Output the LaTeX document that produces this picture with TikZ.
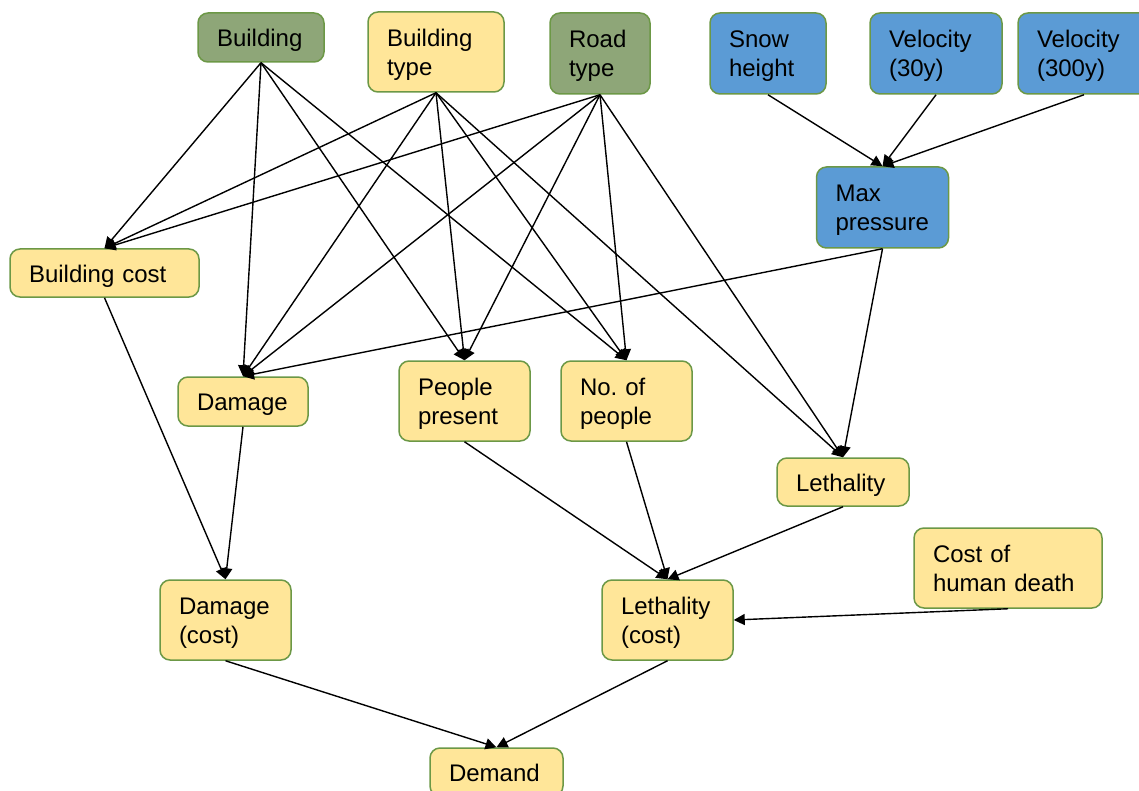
\documentclass[tikz,border=0pt]{standalone}
\usepackage{fontspec}
\setmainfont{Liberation Sans}
\usetikzlibrary{arrows.meta}
\definecolor{boxyellow}{RGB}{255,230,153}
\definecolor{boxgreen}{RGB}{142,166,120}
\definecolor{boxblue}{RGB}{91,155,213}
\definecolor{boxline}{RGB}{108,152,70}
\begin{document}
\begin{tikzpicture}[x=1pt,y=-1pt,line join=round,>={Triangle[length=11pt,width=11pt]},line width=1.4pt]
			\tikzset{every node/.style={draw=boxline,line width=1.5pt,rounded corners=10pt,inner xsep=19pt,inner ysep=0pt,align=left,text height=24pt,font=\fontsize{24}{29}\selectfont},
				nd/.style 2 args={text width=#1,minimum height=#2},
				onel/.style={text depth=5.6pt},twol/.style={text depth=35pt},
				yel/.style={fill=boxyellow},grn/.style={fill=boxgreen},blu/.style={fill=boxblue}}
			\useasboundingbox (0,0) rectangle (1139,791);
			\node[grn,onel,nd={88pt}{49pt}] (bld) at (261,37.5) {Building};
			\node[yel,twol,nd={98pt}{80pt}] (btype) at (436,52) {Building\\type};
			\node[grn,twol,nd={62pt}{81pt}] (road) at (600,53.5) {Road\\type};
			\node[blu,twol,nd={78pt}{81pt}] (snow) at (768,53.5) {Snow\\height};
			\node[blu,twol,nd={94pt}{81pt}] (vthirty) at (936,53.5) {Velocity\\(30y)};
			\node[blu,twol,nd={94pt}{81pt}] (vthree) at (1084,53.5) {Velocity\\(300y)};
			\node[blu,twol,nd={94pt}{81pt}] (maxp) at (882.5,207.5) {Max\\pressure};
			\node[yel,onel,nd={151pt}{48pt}] (bcost) at (104.5,273) {Building cost};
			\node[yel,onel,nd={92pt}{49pt}] (dmg) at (243,401.5) {Damage};
			\node[yel,twol,nd={93pt}{80pt}] (pres) at (464.5,401) {People\\present};
			\node[yel,twol,nd={93pt}{80pt}] (npeople) at (626.5,401) {No.\ of\\people};
			\node[yel,onel,nd={94pt}{48pt}] (leth) at (843,482) {Lethality};
			\node[yel,twol,nd={150pt}{80pt}] (hdeath) at (1008,568) {Cost of\\human death};
			\node[yel,twol,nd={93pt}{80pt}] (dcost) at (225.5,620) {Damage\\(cost)};
			\node[yel,twol,nd={93pt}{80pt}] (lcost) at (667.5,620) {Lethality\\(cost)};
			\node[yel,onel,nd={95pt}{48pt}] (dem) at (496.5,772) {Demand};
			\foreach \a/\b in {bld/bcost,bld/dmg,bld/pres,bld/npeople,
				btype/bcost,btype/dmg,btype/pres,btype/npeople,btype/leth,
				road/bcost,road/dmg,road/pres,road/npeople,road/leth,
				snow/maxp,vthirty/maxp,vthree/maxp,maxp/dmg,maxp/leth,
				bcost/dcost,dmg/dcost,pres/lcost,npeople/lcost,leth/lcost,
				dcost/dem,lcost/dem}
			\draw[->] (\a.south)--(\b.north);
			\draw[->] (hdeath.south)--(lcost.east);
		\end{tikzpicture}
\end{document}
